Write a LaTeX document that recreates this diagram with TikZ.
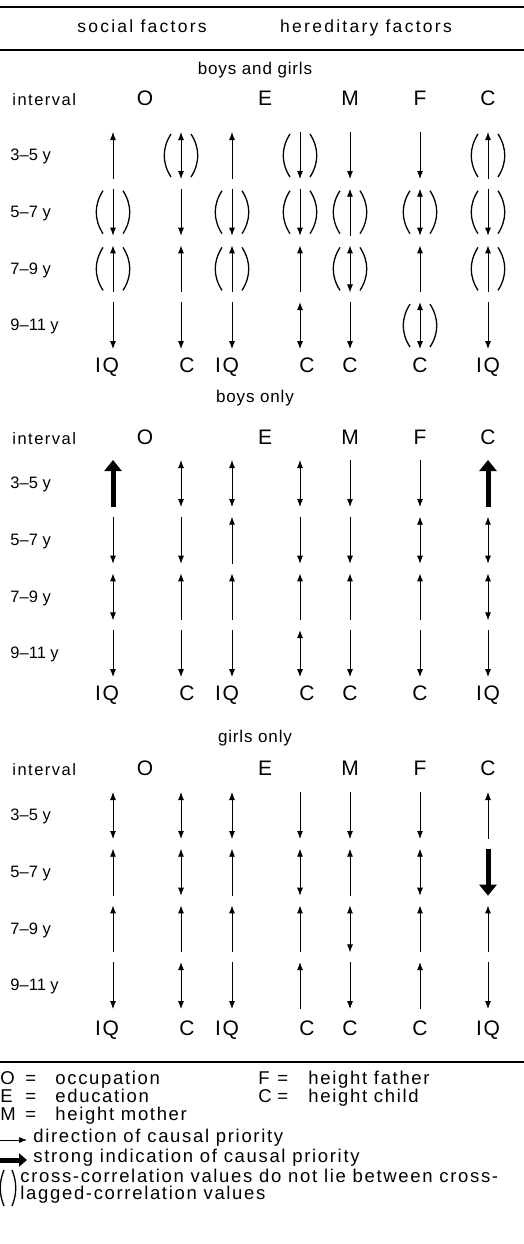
\documentclass[tikz,border=0pt]{standalone}
\usepackage{fontspec}
\setmainfont{Liberation Sans}[LetterSpace=9]
\usetikzlibrary{arrows.meta}

\tikzset{
  txt/.style={font=\fontsize{16.5}{18}\selectfont, inner sep=0pt},
  plain/.style={font=\fontsize{16.5}{18}\selectfont\addfontfeature{LetterSpace=0}, inner sep=0pt},
  ttl/.style={font=\fontsize{17}{18}\selectfont\addfontfeature{LetterSpace=5}, inner sep=0pt},
  head/.style={font=\fontsize{17.5}{18}\selectfont\addfontfeature{LetterSpace=13}, inner sep=0pt},
  key/.style={font=\fontsize{18.5}{20}\selectfont, inner sep=0pt},
  var/.style={font=\fontsize{21}{24}\selectfont\addfontfeature{LetterSpace=8}, inner sep=0pt},
  adn/.style={-{Latex[length=8pt,width=6pt]}},
  aup/.style={{Latex[length=8pt,width=6pt]}-},
  abi/.style={{Latex[length=8pt,width=6pt]}-{Latex[length=8pt,width=6pt]}},
  bigup/.style={line width=5pt, {Triangle[length=11pt,width=17pt]}-},
  bigdn/.style={line width=5pt, -{Triangle[length=11pt,width=17pt]}},
  paren/.style={line width=1.3pt},
  rule/.style={line width=1.1pt},
}

\begin{document}
\begin{tikzpicture}[x=1pt, y=-1pt, line width=0.9pt]
    \useasboundingbox (0,0) rectangle (524,1244);

    % 1. Head of the table
    \coordinate (R1a) at (0,7);    \coordinate (R1b) at (524,7);
    \coordinate (R2a) at (0,50);   \coordinate (R2b) at (524,50);
    \draw[rule] (R1a) -- (R1b);
    \draw[rule] (R2a) -- (R2b);
    \node[head, anchor=mid] (social) at (142,30) {social factors};
    \node[head, anchor=mid] (hered) at (366,30) {hereditary factors};

    % 2. Three panels: titles, letters, interval labels and arrow ends
    \foreach \s/\B/\T/\H/\L/\name in {1/132/72/103/370/boys and girls,
                                      2/460/400/442/698/boys only,
                                      3/792/740/773/1033/girls only} {
        \node[ttl, anchor=mid] (ttl-\s) at (255,\T) {\name};
        \node[txt, anchor=mid west] (int-\s) at (12,\H) {interval};
        \foreach \v/\x in {O/145,E/265,M/350,F/420,C/488}
            \node[var, anchor=mid] (\v-\s) at (\x,\H) {\v};
        \foreach \k/\v/\x in {1/IQ/107,2/C/187,3/IQ/227,4/C/307,5/C/350,6/C/420,7/IQ/488}
            \node[var, anchor=mid] (end-\s-\k) at (\x,\L) {\v};
        \foreach \r/\lab in {1/3--5 y,2/5--7 y,3/7--9 y,4/9--11 y}
            \node[plain, anchor=mid west] (row-\s-\r) at (10,{\B+56.7*(\r-1)+26}) {\lab};
        % top (t) and bottom (b) end of every arrow
        \foreach \r in {1,...,4}
            \foreach \c/\x in {1/113,2/181,3/232,4/300,5/350,6/420,7/488} {
                \coordinate (t-\s-\r-\c) at (\x,{\B+56.7*(\r-1)});
                \coordinate (b-\s-\r-\c) at (\x,{\B+56.7*(\r-1)+47});
            }
    }

    % 3. Arrows (section-row-column / kind)
    % boys and girls
    \foreach \p/\a in {1-1-1/aup,1-1-2/abi,1-1-3/aup,1-1-4/adn,1-1-5/adn,1-1-6/adn,1-1-7/aup,
                       1-2-1/adn,1-2-2/adn,1-2-3/adn,1-2-4/adn,1-2-5/aup,1-2-6/abi,1-2-7/adn,
                       1-3-1/aup,1-3-2/aup,1-3-3/aup,1-3-4/aup,1-3-5/abi,1-3-6/aup,1-3-7/aup,
                       1-4-1/adn,1-4-2/adn,1-4-3/adn,1-4-4/abi,1-4-5/adn,1-4-6/abi,1-4-7/adn}
        \draw[\a] (t-\p) -- (b-\p);
    % boys only
    \foreach \p/\a in {2-1-1/bigup,2-1-2/abi,2-1-3/abi,2-1-4/abi,2-1-5/adn,2-1-6/adn,2-1-7/bigup,
                       2-2-1/adn,2-2-2/adn,2-2-3/aup,2-2-4/adn,2-2-5/adn,2-2-6/abi,2-2-7/abi,
                       2-3-1/abi,2-3-2/aup,2-3-3/aup,2-3-4/aup,2-3-5/aup,2-3-6/aup,2-3-7/abi,
                       2-4-1/adn,2-4-2/adn,2-4-3/adn,2-4-4/abi,2-4-5/adn,2-4-6/adn,2-4-7/adn}
        \draw[\a] (t-\p) -- (b-\p);
    % girls only
    \foreach \p/\a in {3-1-1/abi,3-1-2/abi,3-1-3/abi,3-1-4/adn,3-1-5/adn,3-1-6/adn,3-1-7/aup,
                       3-2-1/aup,3-2-2/abi,3-2-3/aup,3-2-4/abi,3-2-5/aup,3-2-6/abi,3-2-7/bigdn,
                       3-3-1/aup,3-3-2/aup,3-3-3/aup,3-3-4/aup,3-3-5/abi,3-3-6/aup,3-3-7/aup,
                       3-4-1/adn,3-4-2/abi,3-4-3/adn,3-4-4/aup,3-4-5/adn,3-4-6/aup,3-4-7/adn}
        \draw[\a] (t-\p) -- (b-\p);

    % 4. Brackets round some arrows
    \foreach \p in {1-1-2,1-1-4,1-1-7,1-2-1,1-2-3,1-2-4,1-2-5,1-2-6,1-2-7,
                    1-3-1,1-3-3,1-3-5,1-3-7,1-4-6} {
        \draw[paren] ([shift={(-10,2)}]t-\p) .. controls ([shift={(-19,16)}]t-\p)
            and ([shift={(-19,-16)}]b-\p) .. ([shift={(-10,-2)}]b-\p);
        \draw[paren] ([shift={(10,2)}]t-\p) .. controls ([shift={(19,16)}]t-\p)
            and ([shift={(19,-16)}]b-\p) .. ([shift={(10,-2)}]b-\p);
    }

    % 5. Legend
    \coordinate (R3a) at (0,1062); \coordinate (R3b) at (524,1062);
    \draw[rule] (R3a) -- (R3b);
    \node[key, anchor=mid west] (keyO) at (0,1082) {\makebox[25pt][l]{O}\makebox[30pt][l]{=}occupation};
    \node[key, anchor=mid west] (keyE) at (0,1100) {\makebox[25pt][l]{E}\makebox[30pt][l]{=}education};
    \node[key, anchor=mid west] (keyM) at (0,1118) {\makebox[25pt][l]{M}\makebox[30pt][l]{=}height mother};
    \node[key, anchor=mid west] (keyF) at (258,1082) {\makebox[19pt][l]{F}\makebox[31pt][l]{=}height father};
    \node[key, anchor=mid west] (keyC) at (258,1100) {\makebox[19pt][l]{C}\makebox[31pt][l]{=}height child};

    \coordinate (la) at (0,1140);  \coordinate (lb) at (27,1140);
    \draw[adn, line width=0.7pt] (la) -- (lb);
    \node[key, anchor=mid west] (keyA) at (33,1140) {direction of causal priority};

    \coordinate (sa) at (0,1160);  \coordinate (sb) at (27,1160);
    \draw[line width=5pt, -{Triangle[length=8pt,width=13pt]}] (sa) -- (sb);
    \node[key, anchor=mid west] (keyS) at (33,1160) {strong indication of causal priority};

    \coordinate (pt) at (8,1170);  \coordinate (pb) at (8,1206);
    \draw[paren] ([shift={(-4,0)}]pt) .. controls ([shift={(-9,12)}]pt)
        and ([shift={(-9,-12)}]pb) .. ([shift={(-4,0)}]pb);
    \draw[paren] ([shift={(4,0)}]pt) .. controls ([shift={(9,12)}]pt)
        and ([shift={(9,-12)}]pb) .. ([shift={(4,0)}]pb);
    \node[key, anchor=mid west] (keyP1) at (20,1180) {cross-correlation values do not lie between cross-};
    \node[key, anchor=mid west] (keyP2) at (20,1197) {lagged-correlation values};
\end{tikzpicture}
\end{document}
